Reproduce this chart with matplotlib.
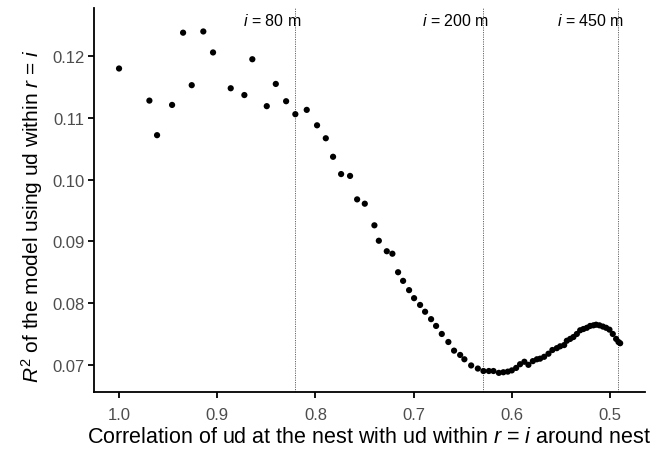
import numpy as np
import matplotlib
matplotlib.use('Agg')
import matplotlib.pyplot as plt

plt.rcParams['font.family'] = ['Liberation Sans', 'DejaVu Sans']
plt.rcParams['mathtext.fontset'] = 'custom'
plt.rcParams['mathtext.rm'] = 'Liberation Sans'
plt.rcParams['mathtext.it'] = 'Liberation Sans:italic'

# correlation of ud at the nest with ud within r = i
corr = [1.000, 0.9691, 0.9613, 0.9460, 0.9348, 0.9260, 0.9142, 0.9043, 0.8863, 0.8724,
        0.8643, 0.8496, 0.8404, 0.8299, 0.8205, 0.8089, 0.7984, 0.7895, 0.7821, 0.7739,
        0.7648, 0.7576, 0.7498, 0.7400, 0.7355, 0.7274, 0.7217, 0.7159, 0.7108, 0.7047,
        0.6996, 0.6935, 0.6884, 0.6823, 0.6772, 0.6714, 0.6647, 0.6589, 0.6527, 0.6484,
        0.6415, 0.6347, 0.6290, 0.6235, 0.6188, 0.6133, 0.6087, 0.6042, 0.6001, 0.5957,
        0.5917, 0.5873, 0.5832, 0.5787, 0.5746, 0.5713, 0.5672, 0.5628, 0.5588, 0.5543,
        0.5509, 0.5468, 0.5441, 0.5407, 0.5374, 0.5339, 0.5305, 0.5272, 0.5237, 0.5204,
        0.5170, 0.5143, 0.5109, 0.5074, 0.5041, 0.5007, 0.4973, 0.4939, 0.4915, 0.4898]
# R2 of the model
r2 = [0.1180, 0.1128, 0.1072, 0.1121, 0.1238, 0.1153, 0.1240, 0.1206, 0.1148, 0.1137,
      0.1195, 0.1119, 0.1155, 0.1127, 0.1106, 0.1113, 0.1088, 0.1067, 0.1037, 0.1009,
      0.1006, 0.0968, 0.0961, 0.0926, 0.0901, 0.0884, 0.0880, 0.0850, 0.0836, 0.0821,
      0.0808, 0.0797, 0.0786, 0.0774, 0.0763, 0.0750, 0.0737, 0.0723, 0.0716, 0.0709,
      0.0699, 0.0694, 0.0690, 0.0690, 0.0690, 0.0687, 0.0688, 0.0689, 0.0691, 0.0695,
      0.0701, 0.0705, 0.0700, 0.0706, 0.0709, 0.0710, 0.0713, 0.0718, 0.0724, 0.0727,
      0.0730, 0.0732, 0.0739, 0.0742, 0.0745, 0.0750, 0.0756, 0.0758, 0.0760, 0.0763,
      0.0764, 0.0765, 0.0764, 0.0762, 0.0760, 0.0757, 0.0750, 0.0742, 0.0737, 0.0735]

# reference radii
vline_x = [0.8208, 0.6293, 0.4919]
vline_labels = ['80', '200', '450']

xticks = [1.0, 0.9, 0.8, 0.7, 0.6, 0.5]
yticks = [0.07, 0.08, 0.09, 0.10, 0.11, 0.12]

fig = plt.figure(figsize=(6.65, 4.52), dpi=100)
ax = fig.add_axes([94/665, 59/452, 551/665, 384/452])

ax.scatter(corr, r2, s=20, color='black', edgecolors='none', zorder=3)

for xv, lab in zip(vline_x, vline_labels):
    ax.axvline(xv, color='#666666', linestyle=(0, (1.2, 1.2)), linewidth=0.7, zorder=1)
    ax.text(xv - 0.006, 0.1259, r'$i$ = ' + lab + ' m', ha='right', va='center',
            fontsize=11.5, color='black')

ax.set_xlim(1.0255, 0.4645)
ax.set_ylim(0.0656, 0.1278)
ax.set_xticks(xticks)
ax.set_xticklabels([f'{v:.1f}' for v in xticks])
ax.set_yticks(yticks)
ax.set_yticklabels([f'{v:.2f}' for v in yticks])

for side in ['top', 'right']:
    ax.spines[side].set_visible(False)
for side in ['left', 'bottom']:
    ax.spines[side].set_linewidth(1.3)
ax.tick_params(axis='both', length=4, width=1.3, labelsize=12, labelcolor='#4d4d4d')
ax.tick_params(axis='x', pad=7)
ax.tick_params(axis='y', pad=3)

ax.set_xlabel(r'Correlation of ud at the nest with ud within $r$ = $i$ around nest',
              fontsize=15.5, labelpad=3)
ax.set_ylabel(r'$R^2$ of the model using ud within $r$ = $i$', fontsize=15, labelpad=5)
ax.yaxis.label.set_y(0.46)

fig.savefig('out.png', dpi=100)
